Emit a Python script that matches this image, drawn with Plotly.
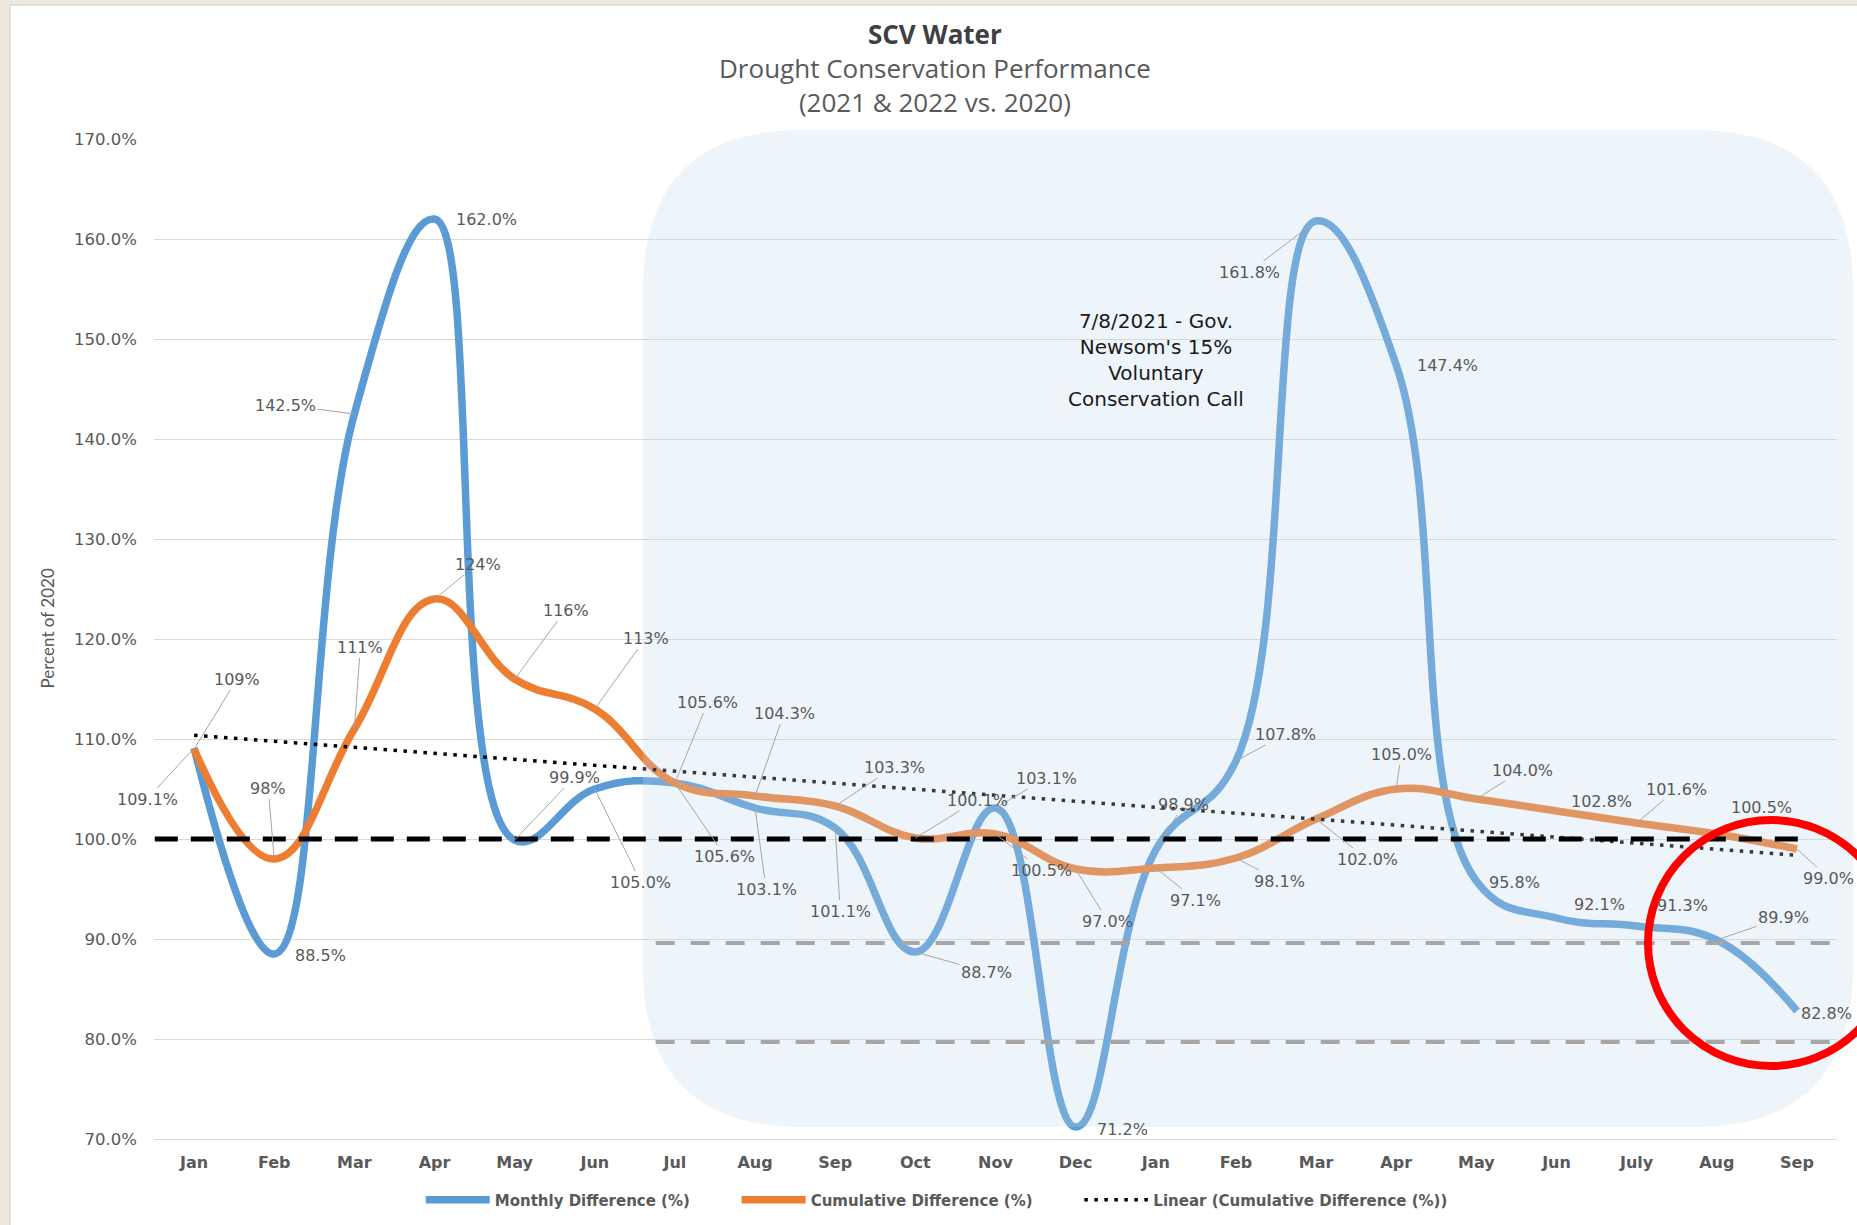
import numpy as np
import plotly.graph_objects as go

# ---------------- data ----------------
months = ["Jan", "Feb", "Mar", "Apr", "May", "Jun", "Jul", "Aug", "Sep", "Oct", "Nov", "Dec",
          "Jan", "Feb", "Mar", "Apr", "May", "Jun", "July", "Aug", "Sep"]
monthly = [109.1, 88.5, 142.5, 162.0, 99.9, 105.0, 105.6, 103.1, 101.1, 88.7, 103.1, 71.2,
           98.9, 107.8, 161.8, 147.4, 95.8, 92.1, 91.3, 89.9, 82.8]
cumulative = [109.0, 98.0, 111.0, 124.0, 116.0, 113.0, 105.6, 104.3, 103.3, 100.1, 100.5, 97.0,
              97.1, 98.1, 102.0, 105.0, 104.0, 102.8, 101.6, 100.5, 99.0]
monthly_labels = ["109.1%", "88.5%", "142.5%", "162.0%", "99.9%", "105.0%", "105.6%", "103.1%",
                  "101.1%", "88.7%", "103.1%", "71.2%", "98.9%", "107.8%", "161.8%", "147.4%",
                  "95.8%", "92.1%", "91.3%", "89.9%", "82.8%"]
cumulative_labels = ["109%", "98%", "111%", "124%", "116%", "113%", "105.6%", "104.3%", "103.3%",
                     "100.1%", "100.5%", "97.0%", "97.1%", "98.1%", "102.0%", "105.0%", "104.0%",
                     "102.8%", "101.6%", "100.5%", "99.0%"]
series_names = ["Monthly Difference (%)", "Cumulative Difference (%)",
                "Linear (Cumulative Difference (%))"]
baseline = 100.0
target_lines = [89.6, 79.7]
title_lines = ["SCV Water", "Drought Conservation Performance", "(2021 & 2022 vs. 2020)"]
note_text = "7/8/2021 - Gov.<br>Newsom's 15%<br>Voluntary<br>Conservation Call"

xs = list(range(len(months)))

# linear trend of cumulative series (as the original chart's trendline)
coef = np.polyfit(xs, cumulative, 1)
trend = np.polyval(coef, xs)

# ---------------- label placement (pixel offsets, leader flag) ----------------
monthly_off = [(-47, 51, 1), (46, 1, 0), (-69, -9, 1), (52, 0, 0), (60, -63, 1), (46, 93, 1),
               (50, 73, 1), (11, 81, 1), (5, 83, 1), (71, 20, 1), (51, -30, 1), (47, 2, 0),
               (28, -46, 1), (50, -27, 1), (-67, 51, 1), (51, 0, 0), (38, 1, 0), (43, -14, 0),
               (46, -21, 0), (67, -23, 1), (30, 2, 0)]
cum_off = [(43, -70, 1), (-6, -71, 1), (6, -82, 1), (43, -35, 1), (51, -69, 1), (51, -71, 1),
           (33, -81, 1), (29, -83, 1), (59, -39, 1), (62, -38, 1), (46, 36, 1), (32, 52, 1),
           (40, 32, 1), (44, 23, 1), (51, 40, 1), (5, -35, 1), (46, -29, 1), (45, -10, 0),
           (40, -34, 1), (45, -27, 0), (32, 29, 1)]

BLUE = "#5B9BD5"
ORANGE = "#ED7D31"
GRAY_TXT = "#595959"
LABEL_FONT = dict(family="DejaVu Sans", size=16, color=GRAY_TXT)
PAD = "\u00a0" * 8  # spacing between legend entries

fig = go.Figure()
fig.add_trace(go.Scatter(x=xs, y=monthly, mode="lines", name=series_names[0] + PAD,
                         line=dict(color=BLUE, width=7.5, shape="spline", smoothing=1.2),
                         hoverinfo="skip"))
fig.add_trace(go.Scatter(x=xs, y=cumulative, mode="lines", name=series_names[1] + PAD,
                         line=dict(color=ORANGE, width=7.5, shape="spline", smoothing=1.2),
                         hoverinfo="skip"))
fig.add_trace(go.Scatter(x=xs, y=trend, mode="lines", name=series_names[2],
                         line=dict(color="black", width=3.5, dash="3.5px,6.5px"),
                         hoverinfo="skip"))

annotations = []
for vals, labels, offs in ((monthly, monthly_labels, monthly_off),
                           (cumulative, cumulative_labels, cum_off)):
    for i, (v, t, (ax, ay, lead)) in enumerate(zip(vals, labels, offs)):
        annotations.append(dict(x=xs[i], y=v, xref="x", yref="y", text=t, showarrow=True,
                                ax=ax, ay=ay, arrowhead=0, arrowwidth=1, standoff=0,
                                arrowcolor="#A6A6A6" if lead else "rgba(0,0,0,0)",
                                font=LABEL_FONT))

title_text = (f"<span style='color:#404040'><b>{title_lines[0]}</b></span><br>"
              f"{title_lines[1]}<br>{title_lines[2]}")
annotations += [
    dict(text=title_text, x=0.464, y=1.0715, xref="paper", yref="paper", showarrow=False,
         xanchor="center", yanchor="middle", align="center",
         font=dict(family="Open Sans", size=26, color=GRAY_TXT)),
    dict(text="Percent of 2020", x=-0.0633, y=0.511, xref="paper", yref="paper", showarrow=False,
         textangle=-90, xanchor="center", yanchor="middle",
         font=dict(family="Lato", size=17, color=GRAY_TXT)),
    dict(text=note_text, x=12, y=147.9, xref="x", yref="y", showarrow=False, align="center",
         font=dict(family="DejaVu Sans", size=20, color="#1a1a1a")),
]

# ---------------- shapes ----------------
def rounded_rect(L, R, B, T, rx, ry):
    return (f"M {L+rx},{T} L {R-rx},{T} Q {R},{T} {R},{T-ry} L {R},{B+ry} "
            f"Q {R},{B} {R-rx},{B} L {L+rx},{B} Q {L},{B} {L},{B+ry} "
            f"L {L},{T-ry} Q {L},{T} {L+rx},{T} Z")

shapes = [
    dict(type="path", xref="paper", yref="paper", layer="above",
         path=rounded_rect(0.2906, 1.0095, 0.012, 1.009, 160 / 1683, 0.160),
         fillcolor="rgba(189,215,238,0.27)", line=dict(width=0)),
    dict(type="line", xref="x", yref="y", layer="above", x0=-0.49, x1=20.16, y0=baseline, y1=baseline,
         line=dict(color="black", width=5, dash="23px,13px")),
]
for yv in target_lines:
    shapes.append(dict(type="line", xref="x", yref="y", layer="above", x0=5.76, x1=20.5, y0=yv, y1=yv,
                       line=dict(color="#A6A6A6", width=4, dash="19px,16px")))
shapes += [
    dict(type="circle", xref="paper", yref="paper", layer="above",
         x0=0.8877, x1=1.0339, y0=0.073, y1=0.319, line=dict(color="#FF0000", width=8)),
    dict(type="rect", xref="paper", yref="paper", layer="above",
         x0=-0.1, x1=-0.0856, y0=-0.1, y1=1.2, fillcolor="#EFE8DF", line=dict(width=0)),
    dict(type="rect", xref="paper", yref="paper", layer="above",
         x0=-0.1, x1=1.1, y0=1.134, y1=1.2, fillcolor="#EFE8DF", line=dict(width=0)),
    dict(type="line", xref="paper", yref="paper", layer="above",
         x0=-0.0856, x1=-0.0856, y0=-0.1, y1=1.134, line=dict(color="#D9D9D9", width=1.5)),
    dict(type="line", xref="paper", yref="paper", layer="above",
         x0=-0.0856, x1=1.1, y0=1.134, y1=1.134, line=dict(color="#D9D9D9", width=1.5)),
]

fig.update_layout(
    width=1857, height=1225, autosize=False,
    margin=dict(l=154, r=20, t=139, b=86, autoexpand=False),
    paper_bgcolor="white", plot_bgcolor="white",
    showlegend=True,
    legend=dict(orientation="h", x=0.1585, xanchor="left", xref="paper",
                y=0.0204, yanchor="middle", yref="container",
                font=dict(family="DejaVu Sans", size=15, color=GRAY_TXT, weight="bold"),
                itemwidth=64, bgcolor="rgba(0,0,0,0)"),
    xaxis=dict(range=[-0.5, 20.5], tickmode="array", tickvals=xs, ticktext=months,
               showgrid=False, zeroline=False, showline=True, linecolor="#D9D9D9", linewidth=1,
               ticks="", ticklabelstandoff=9, automargin=False,
               tickfont=dict(family="DejaVu Sans", size=16, color=GRAY_TXT, weight="bold")),
    yaxis=dict(range=[70, 170], tick0=70, dtick=10, showgrid=True, gridcolor="#D9D9D9", gridwidth=1,
               zeroline=False, showline=False, ticks="", tickformat=".1f", ticksuffix="%",
               ticklabelstandoff=16, automargin=False,
               tickfont=dict(family="DejaVu Sans", size=16.5, color=GRAY_TXT)),
    annotations=annotations,
    shapes=shapes,
    hovermode=False,
)

fig.write_html("out.html", config={"displayModeBar": False},
               post_script="document.body.style.margin='0';")
